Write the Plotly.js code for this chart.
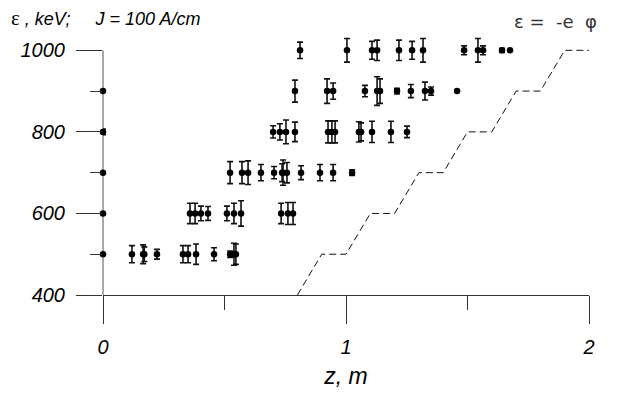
<!DOCTYPE html>
<html>
<head>
<meta charset="utf-8">
<script src="https://cdn.plot.ly/plotly-3.0.1.min.js"></script>
<style>html,body{margin:0;padding:0;background:#fff;}#chart{width:631px;height:394px;}</style>
</head>
<body>
<div id="chart"></div>
<script>
// Energy levels (keV) and measured positions z (m) with error half-widths (keV)
const levels = [500, 600, 700, 800, 900, 1000];
const z500 = [0, 0.119, 0.165, 0.170, 0.222, 0.329, 0.350, 0.383, 0.457, 0.523, 0.539, 0.547];
const e500 = [0, 21, 23, 18, 12, 21, 21, 25, 16, 8, 27, 25];
const z600 = [0, 0.358, 0.379, 0.403, 0.432, 0.510, 0.539, 0.568, 0.733, 0.761, 0.782];
const e600 = [0, 25, 25, 18, 17, 18, 25, 31, 25, 27, 27];
const z700 = [0, 0.523, 0.572, 0.597, 0.650, 0.704, 0.737, 0.741, 0.757, 0.815, 0.893, 0.947, 1.025];
const e700 = [0, 27, 27, 29, 20, 15, 22, 31, 25, 17, 20, 20, 7];
const z800 = [0, 0.700, 0.728, 0.753, 0.790, 0.926, 0.942, 0.955, 1.053, 1.062, 1.107, 1.185, 1.251];
const e800 = [7, 15, 20, 29, 24, 27, 27, 27, 25, 22, 26, 26, 14];
const z900 = [0, 0.790, 0.922, 0.947, 1.078, 1.128, 1.140, 1.210, 1.267, 1.325, 1.350, 1.457];
const e900 = [0, 27, 30, 20, 14, 35, 30, 7, 16, 22, 10, 0];
const z1000 = [0.811, 1.004, 1.107, 1.128, 1.218, 1.272, 1.317, 1.486, 1.543, 1.564, 1.642, 1.675];
const e1000 = [20, 29, 22, 25, 25, 22, 29, 11, 29, 11, 5, 0];

// Potential staircase eps = -e*phi
const phiZ = [0.80, 0.90, 1.00, 1.10, 1.20, 1.30, 1.40, 1.50, 1.60, 1.70, 1.80, 1.90, 2.00];
const phiE = [400, 500, 500, 600, 600, 700, 700, 800, 800, 900, 900, 1000, 1000];

const xTicks = [0, 1, 2];
const xTickText = ['0', '1', '2'];
const xMinor = [0.5, 1.5];
const yTicks = [400, 600, 800, 1000];
const yTickText = ['400', '600', '800', '1000'];
const yMinor = [500, 700, 900];

const zs = [z500, z600, z700, z800, z900, z1000];
const es = [e500, e600, e700, e800, e900, e1000];
let X = [], Y = [], E = [];
zs.forEach((arr, i) => {
  arr.forEach((z, j) => { X.push(z); Y.push(levels[i]); E.push(es[i][j]); });
});

const traces = [
  {
    x: phiZ, y: phiE, type: 'scatter', mode: 'lines',
    line: {color: '#111', width: 1, dash: '7px,4px'},
    hoverinfo: 'skip', cliponaxis: false
  },
  {
    x: X, y: Y, type: 'scatter', mode: 'markers',
    marker: {color: '#000', size: 6.5},
    error_y: {type: 'data', array: E, visible: true, color: '#111', thickness: 1.6, width: 3},
    cliponaxis: false
  }
];

const tickFont = {family: 'Liberation Sans, Arial, sans-serif', size: 20, color: '#000', style: 'italic'};

const layout = {
  width: 631, height: 394,
  margin: {l: 103, r: 42, t: 34, b: 99},
  paper_bgcolor: '#fff', plot_bgcolor: '#fff',
  showlegend: false,
  xaxis: {
    range: [0, 2], showgrid: false, zeroline: false,
    showline: true, linecolor: '#333', linewidth: 1,
    tickmode: 'array', tickvals: xTicks, ticktext: xTickText,
    ticks: 'outside', ticklen: 28, tickcolor: '#333', tickwidth: 1,
    minor: {tickmode: 'array', tickvals: xMinor, ticks: 'outside', ticklen: 14, tickcolor: '#333', tickwidth: 1},
    tickfont: tickFont, ticklabelstandoff: 6,
    title: {text: 'z, m', font: {family: 'Liberation Sans, Arial, sans-serif', size: 23, color: '#000', style: 'italic'}, standoff: 10}
  },
  yaxis: {
    range: [400, 1040], showgrid: false, zeroline: false,
    showline: false,
    tickmode: 'array', tickvals: yTicks, ticktext: yTickText,
    ticks: 'outside', ticklen: 26, tickcolor: '#333', tickwidth: 1,
    minor: {tickmode: 'array', tickvals: yMinor, ticks: 'outside', ticklen: 12, tickcolor: '#333', tickwidth: 1},
    tickfont: tickFont, ticklabelstandoff: 7
  },
  shapes: [
    {type: 'line', xref: 'paper', yref: 'y', x0: 0, x1: 0, y0: 400, y1: 1000,
     line: {color: '#555', width: 1}, layer: 'below'}
  ],
  annotations: [
    {
      xref: 'paper', yref: 'paper', x: (9 - 103) / 486, y: (295 - 18) / 261,
      xanchor: 'left', yanchor: 'middle', showarrow: false,
      text: '<span style="font-family:\'Liberation Serif\',serif;font-style:normal;font-size:21px">ε</span><i> , keV;\u00a0\u00a0\u00a0\u00a0 J = 100 A/cm</i>',
      font: {family: 'Liberation Sans, Arial, sans-serif', size: 18, color: '#000'}
    },
    {
      xref: 'paper', yref: 'paper', x: (512 - 103) / 486, y: (295 - 21) / 261,
      xanchor: 'left', yanchor: 'middle', showarrow: false,
      text: 'ε =\u00a0 -e\u00a0 φ',
      font: {family: 'DejaVu Sans, sans-serif', size: 18, color: '#333'}
    }
  ]
};

Plotly.newPlot('chart', traces, layout, {displayModeBar: false, staticPlot: true});
</script>
</body>
</html>
